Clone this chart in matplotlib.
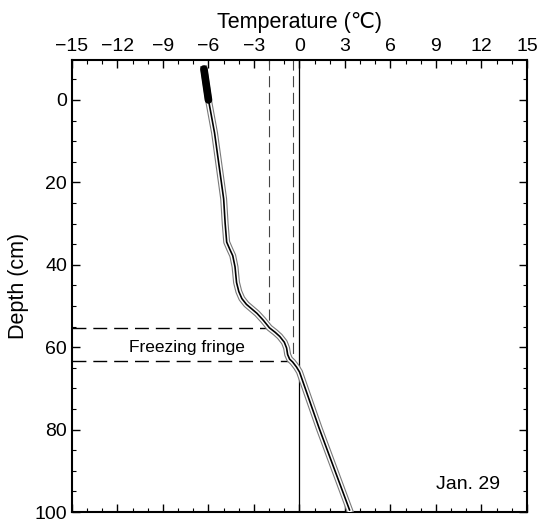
import numpy as np
import matplotlib.pyplot as plt
from matplotlib.ticker import MultipleLocator

plt.rcParams['font.family'] = ['Liberation Sans', 'DejaVu Sans']

# temperature profile, Jan. 29
temp = [-6.3, -6.0, -5.6, -5.3, -5.0, -4.9, -4.8, -4.6, -4.4, -4.25, -4.15, -4.0,
        -3.8, -3.5, -3.15, -2.8, -2.4, -1.98, -1.6, -1.3, -1.0, -0.85, -0.78,
        -0.65, -0.45, -0.2, 0.0, 1.3, 3.3]
depth = [-7.5, 0.0, 8.0, 16.0, 24.0, 30.0, 34.5, 36.2, 37.8, 40.5, 44.3, 46.5,
         48.2, 49.6, 50.7, 51.8, 53.4, 55.3, 56.4, 57.4, 58.8, 60.2, 61.8,
         62.9, 63.6, 64.8, 66.0, 79.7, 99.5]

# freezing fringe
fringe_top = 55.3
fringe_bot = 63.3
t_top = -2.0
t_bot = -0.45

fig = plt.figure(figsize=(5.47, 5.24), dpi=100)
ax = fig.add_axes([0.1316, 0.0229, 0.8318, 0.8626])

ax.plot(temp, depth, color='#7a7a7a', lw=5.0, zorder=3)
ax.plot(temp, depth, color='white', lw=3.4, zorder=4)
ax.plot(temp, depth, color='black', lw=1.2, zorder=5)
ax.plot(temp[:2], depth[:2], color='black', lw=5.5, solid_capstyle='round', zorder=6)

ax.axvline(0, color='black', lw=0.9, zorder=2)
ax.plot([t_top, t_top], [-10, fringe_top], color='#444444', lw=0.8, dashes=(10, 5))
ax.plot([t_bot, t_bot], [-10, fringe_bot], color='#444444', lw=0.8, dashes=(10, 5))
ax.plot([-15, t_top], [fringe_top, fringe_top], color='black', lw=1.0, dashes=(10, 5))
ax.plot([-15, t_bot], [fringe_bot, fringe_bot], color='black', lw=1.0, dashes=(10, 5))

ax.text(-7.45, 60.1, 'Freezing fringe', fontsize=12.5, ha='center', va='center')
ax.text(11.1, 93.4, 'Jan. 29', fontsize=14, ha='center', va='center')

ax.set_xlim(-15, 15)
ax.set_ylim(100, -9.7)
ax.set_xticks(np.arange(-15, 16, 3))
ax.xaxis.set_minor_locator(MultipleLocator(1))
ax.set_yticks(np.arange(0, 101, 20))
ax.yaxis.set_minor_locator(MultipleLocator(5))
ax.tick_params(which='both', direction='in', top=True, bottom=True, left=True, right=True,
               labeltop=True, labelbottom=False, labelsize=14)
ax.tick_params(which='major', length=6, width=1)
ax.tick_params(which='minor', length=3, width=0.8)
ax.xaxis.set_label_position('top')
ax.set_xlabel('Temperature (\u2103)', fontsize=15.5, labelpad=7)
ax.set_ylabel('Depth (cm)', fontsize=15.5, labelpad=4)
for s in ax.spines.values():
    s.set_linewidth(1.5)

fig.savefig('out.png', dpi=100)
